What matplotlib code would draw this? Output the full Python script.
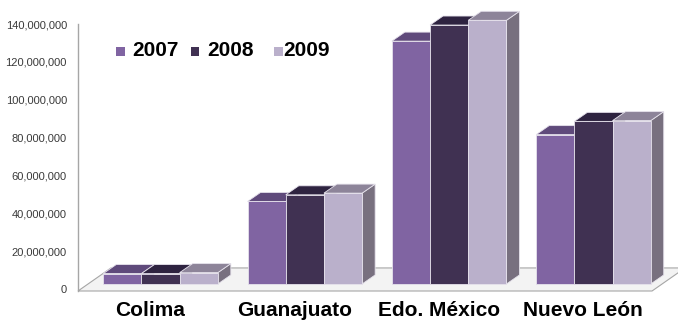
import numpy as np
import matplotlib
matplotlib.use('Agg')
import matplotlib.pyplot as plt
from matplotlib.patches import Polygon, Rectangle
from matplotlib.ticker import FuncFormatter
from matplotlib.transforms import blended_transform_factory

plt.rcParams['font.family'] = ['Liberation Sans', 'DejaVu Sans']

categories = ['Colima', 'Guanajuato', 'Edo. México', 'Nuevo León']
years = ['2007', '2008', '2009']
v2007 = [5.5e6, 43.6e6, 128.3e6, 78.9e6]
v2008 = [5.5e6, 47.1e6, 136.8e6, 85.9e6]
v2009 = [6.0e6, 48.0e6, 139.3e6, 86.3e6]
series = [v2007, v2008, v2009]

front_cols = ['#8064A2', '#403152', '#BAB0CB']
top_cols = ['#5F4A7B', '#2E2340', '#8D8499']
side_cols = ['#5F4A7B', '#2E2340', '#78707F']

W, H = 678, 320
fig = plt.figure(figsize=(W / 100, H / 100), dpi=100)
ax = fig.add_axes([78 / W, 29 / H, 600 / W, 267 / H])

px_per_unit = 144.3
px_per_val = 37.77 / 20e6
bw = 38.2 / px_per_unit
ddx, ddy = 13 / px_per_unit, 9 / px_per_val          # bar depth
fdx, fdy = 33 / px_per_unit, 23 / px_per_val         # floor depth
sx, sy = 10.5 / px_per_unit, 7 / px_per_val          # bar offset from floor front
ybot = -2 / px_per_val

ax.set_xlim(-0.572, 3.586)
ax.set_ylim(ybot, 140e6)

# floor
fx0, fx1 = -0.572, (652 - 160.5) / px_per_unit
floor = Polygon([(fx0, ybot), (fx1, ybot), (fx1 + fdx, ybot + fdy), (fx0 + fdx, ybot + fdy)],
                closed=True, facecolor='#F3F3F3', edgecolor='#A6A6A6', lw=0.8, zorder=1,
                clip_on=False)
ax.add_patch(floor)

y0 = ybot + sy
z = 2
edge = '#E6E2EC'
for i in range(len(categories)):
    for j, vals in enumerate(series):
        v = vals[i]
        x0 = i - 1.5 * bw + j * bw
        x1 = x0 + bw
        side = Polygon([(x1, y0), (x1 + ddx, y0 + ddy), (x1 + ddx, y0 + v + ddy), (x1, y0 + v)],
                       closed=True, facecolor=side_cols[j], edgecolor=edge, lw=0.6, zorder=z,
                       clip_on=False)
        top = Polygon([(x0, y0 + v), (x1, y0 + v), (x1 + ddx, y0 + v + ddy), (x0 + ddx, y0 + v + ddy)],
                      closed=True, facecolor=top_cols[j], edgecolor=edge, lw=0.6, zorder=z + 1,
                      clip_on=False)
        ax.add_patch(side)
        ax.add_patch(top)
        bars = ax.bar(x0, v, width=bw, bottom=y0, align='edge', color=front_cols[j],
                      edgecolor=edge, lw=0.6, zorder=z + 2)
        for b in bars:
            b.set_clip_on(False)
        z += 3

ax.set_yticks(np.arange(0, 140e6 + 1, 20e6))
ax.yaxis.set_major_formatter(FuncFormatter(lambda v, p: f'{v:,.0f}'))
ax.tick_params(axis='y', length=0, pad=8, labelsize=8, labelcolor='#3A3A3A')
ax.set_xticks([])
for s in ['top', 'right', 'bottom']:
    ax.spines[s].set_visible(False)
ax.spines['left'].set_color('#A6A6A6')
ax.spines['left'].set_linewidth(1.0)
ax.patch.set_alpha(0)

trans = blended_transform_factory(ax.transData, fig.transFigure)
for i, c in enumerate(categories):
    ax.text(i - sx, 4 / H, c, transform=trans, ha='center', va='baseline',
            fontsize=15, fontweight='bold', color='black', clip_on=False)

# legend
leg_marks = [116, 191, 274]
leg_text = [132, 207, 283]
for j, y in enumerate(years):
    fig.patches.append(Rectangle((leg_marks[j] / W, 1 - 55.5 / H), 8.5 / W, 8.5 / H,
                                 transform=fig.transFigure, facecolor=front_cols[j], edgecolor='none'))
    fig.text(leg_text[j] / W, 1 - 56 / H, y, fontsize=15, fontweight='bold',
             color='black', ha='left', va='baseline')

fig.savefig('out.png', dpi=100)
